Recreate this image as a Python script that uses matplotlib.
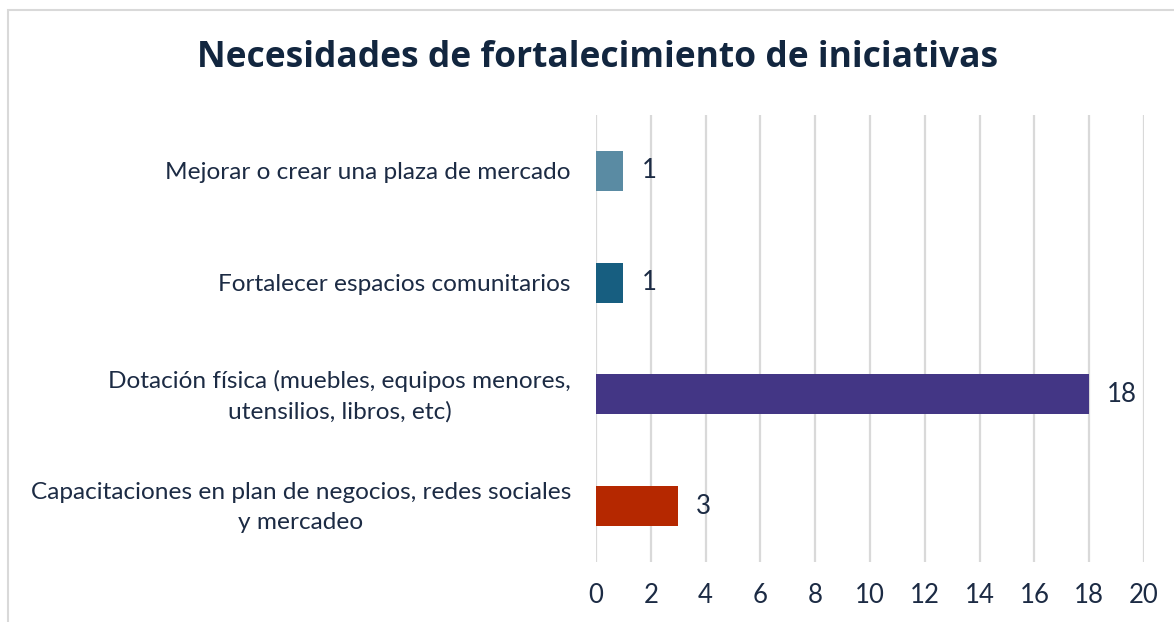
import matplotlib
matplotlib.use("Agg")
import matplotlib.pyplot as plt
from matplotlib.patches import Rectangle
from matplotlib.transforms import ScaledTranslation

categories = [
    "Mejorar o crear una plaza de mercado",
    "Fortalecer espacios comunitarios",
    "Dotación física (muebles, equipos menores,\nutensilios, libros, etc)",
    "Capacitaciones en plan de negocios, redes sociales\ny mercadeo",
]
values = [1, 1, 18, 3]
colors = ["#5A8BA3", "#175E80", "#433685", "#B52800"]
xticks = [0, 2, 4, 6, 8, 10, 12, 14, 16, 18, 20]
title = "Necesidades de fortalecimiento de iniciativas"

text_color = "#1C2B44"
W, H = 1174, 622
fig = plt.figure(figsize=(W / 100, H / 100), dpi=100)
fig.patch.set_facecolor("white")

# outer chart border
fig.patches.append(Rectangle((8 / W, -0.1), 1.2, 1 - 10 / H + 0.1, transform=fig.transFigure,
                             fill=False, edgecolor="#D9D9D9", linewidth=1.5))

ax = fig.add_axes([596 / W, 1 - 562 / H, (1144 - 596) / W, (562 - 115) / H])
ypos = list(range(len(categories)))
ax.barh(ypos, values, height=0.36, color=colors, zorder=3)
ax.set_ylim(len(categories) - 0.5, -0.5)
ax.set_xlim(0, 20)
ax.set_xticks(xticks)
ax.set_xticklabels([str(t) for t in xticks])
ax.set_yticks(ypos)
ax.set_yticklabels(categories, multialignment="center", linespacing=1.55)
ax.grid(axis="x", color="#D9D9D9", linewidth=1.6, zorder=0)
for s in ax.spines.values():
    s.set_visible(False)
ax.tick_params(axis="y", length=0, labelsize=17.6, colors=text_color, labelfontfamily="Lato", pad=18)
ax.tick_params(axis="x", length=0, labelsize=18.5, colors=text_color, labelfontfamily="Lato", pad=15)

for lab in ax.get_yticklabels():
    if "\n" in lab.get_text():
        lab.set_transform(lab.get_transform() + ScaledTranslation(0, 5 / 100, fig.dpi_scale_trans))

for y, v in zip(ypos, values):
    ax.annotate(str(v), (v, y), xytext=(18, 0), textcoords="offset pixels",
                ha="left", va="center", fontsize=18.5, color=text_color, family="Lato")

fig.text(598 / W, 1 - 58 / H, title, ha="center", va="center", fontsize=25.5,
         fontweight="bold", color="#12263F", family="Open Sans")

fig.savefig("out.png", dpi=100, facecolor="white")
